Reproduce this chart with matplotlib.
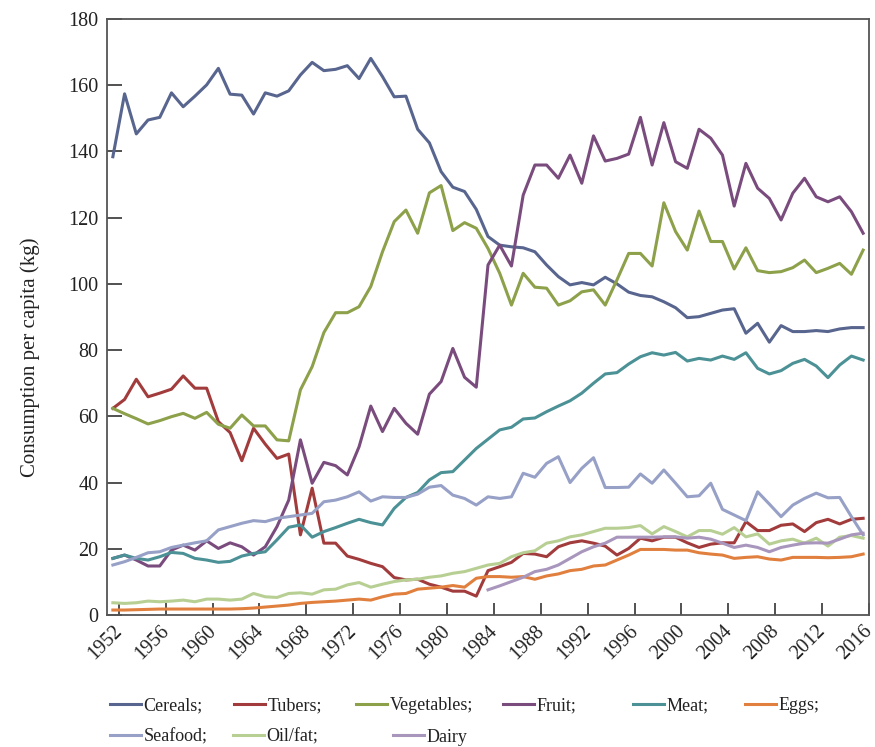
import numpy as np
import matplotlib
matplotlib.use('Agg')
import matplotlib.pyplot as plt

plt.rcParams['font.family'] = ['Liberation Serif', 'DejaVu Serif']

# Years covered by the chart
years = list(range(1952, 2017))

# Per capita consumption (kg)
cereals = [138.4, 157.4, 145.3, 149.5, 150.3, 157.7, 153.5, 156.7, 160.1, 165.1,
           157.3, 157.0, 151.3, 157.7, 156.7, 158.3, 163.1, 166.9, 164.4, 164.8,
           165.9, 162.0, 168.1, 162.6, 156.5, 156.7, 146.7, 142.6, 133.9, 129.2,
           127.9, 122.5, 114.3, 111.7, 111.2, 110.9, 109.7, 105.7, 102.2, 99.7,
           100.4, 99.7, 102.0, 100.0, 97.5, 96.5, 96.1, 94.6, 92.8, 89.8,
           90.1, 91.1, 92.1, 92.5, 85.1, 88.1, 82.4, 87.4, 85.6, 85.6,
           85.9, 85.6, 86.4, 86.8, 86.8]
tubers = [62.4, 65.1, 71.2, 65.9, 67.0, 68.2, 72.2, 68.5, 68.5, 58.4,
          55.1, 46.6, 56.4, 51.6, 47.3, 48.6, 24.2, 38.3, 21.7, 21.7,
          17.8, 16.8, 15.6, 14.6, 11.3, 10.6, 10.8, 9.3, 8.4, 7.2,
          7.2, 5.7, 13.4, 14.6, 15.9, 18.6, 18.4, 17.6, 20.6, 21.8,
          22.4, 21.7, 20.8, 18.1, 20.1, 23.2, 22.4, 23.5, 23.5, 21.8,
          20.4, 21.4, 21.8, 21.8, 28.2, 25.5, 25.5, 27.1, 27.5, 25.2,
          27.9, 28.9, 27.5, 28.9, 29.2]
vegetables = [62.4, 60.8, 59.3, 57.7, 58.7, 59.9, 60.9, 59.4, 61.2, 57.6,
              56.4, 60.4, 57.1, 57.1, 52.9, 52.6, 68.0, 75.0, 85.3, 91.3,
              91.3, 93.1, 99.2, 109.7, 118.8, 122.3, 115.3, 127.5, 129.7, 116.1,
              118.5, 116.8, 110.7, 103.2, 93.6, 103.2, 99.0, 98.7, 93.6, 94.9,
              97.6, 98.2, 93.6, 101.2, 109.2, 109.2, 105.4, 124.5, 115.8, 110.2,
              122.0, 112.8, 112.8, 104.5, 110.9, 104.0, 103.4, 103.7, 104.9, 107.2,
              103.4, 104.7, 106.2, 102.9, 110.2]
fruit = [17.1, 18.1, 16.6, 14.8, 14.8, 19.6, 21.1, 19.6, 22.4, 20.1,
         21.8, 20.6, 18.1, 20.6, 26.7, 34.7, 52.9, 39.8, 46.1, 45.1,
         42.3, 50.8, 63.1, 55.4, 62.4, 57.9, 54.6, 66.7, 70.5, 80.5,
         71.8, 68.8, 105.7, 111.7, 105.4, 126.8, 135.9, 135.9, 131.9, 138.9,
         130.4, 144.7, 137.1, 137.9, 139.2, 150.3, 135.9, 148.7, 136.9, 134.9,
         146.7, 144.0, 138.9, 123.5, 136.4, 128.9, 125.8, 119.3, 127.4, 131.9,
         126.3, 124.8, 126.3, 121.8, 115.3]
meat = [17.1, 18.1, 17.1, 16.6, 17.6, 18.9, 18.6, 17.1, 16.6, 15.9,
        16.2, 17.8, 18.6, 19.1, 22.7, 26.5, 27.2, 23.5, 25.2, 26.4,
        27.7, 28.9, 27.9, 27.2, 32.2, 35.5, 37.0, 40.8, 43.0, 43.3,
        46.8, 50.3, 53.1, 55.9, 56.7, 59.2, 59.5, 61.4, 63.1, 64.7,
        67.0, 70.0, 72.8, 73.2, 75.8, 78.0, 79.2, 78.5, 79.3, 76.7,
        77.5, 77.0, 78.2, 77.2, 79.2, 74.5, 72.8, 73.8, 76.0, 77.2,
        75.2, 71.7, 75.5, 78.2, 77.0]
eggs = [1.5, 1.5, 1.6, 1.7, 1.8, 1.8, 1.8, 1.8, 1.8, 1.8,
        1.8, 1.9, 2.1, 2.4, 2.7, 3.0, 3.5, 3.8, 4.0, 4.2,
        4.5, 4.8, 4.5, 5.5, 6.3, 6.5, 7.8, 8.1, 8.4, 8.9,
        8.4, 11.1, 11.6, 11.6, 11.4, 11.6, 10.8, 11.8, 12.4, 13.4,
        13.8, 14.8, 15.1, 16.6, 18.1, 19.8, 19.8, 19.8, 19.6, 19.6,
        18.8, 18.4, 18.1, 17.1, 17.4, 17.6, 16.9, 16.6, 17.4, 17.4,
        17.4, 17.3, 17.4, 17.6, 18.4]
seafood = [15.1, 16.1, 17.4, 18.8, 19.1, 20.4, 21.1, 21.8, 22.4, 25.7,
           26.7, 27.7, 28.5, 28.2, 29.2, 29.7, 30.2, 30.7, 34.2, 34.7,
           35.7, 37.2, 34.4, 35.7, 35.5, 35.5, 36.5, 38.6, 39.1, 36.2,
           35.2, 33.2, 35.7, 35.2, 35.7, 42.8, 41.6, 45.8, 47.8, 40.0,
           44.3, 47.5, 38.5, 38.5, 38.6, 42.6, 39.8, 43.8, 39.8, 35.7,
           36.0, 39.8, 31.9, 30.2, 28.5, 37.2, 33.5, 29.7, 33.2, 35.2,
           36.8, 35.4, 35.5, 29.7, 24.2]
oil_fat = [3.7, 3.5, 3.7, 4.2, 4.0, 4.2, 4.5, 4.0, 4.8, 4.8,
           4.5, 4.8, 6.5, 5.5, 5.3, 6.5, 6.7, 6.3, 7.6, 7.8,
           9.1, 9.8, 8.4, 9.3, 10.1, 10.6, 10.8, 11.4, 11.8, 12.6,
           13.1, 14.1, 15.1, 15.6, 17.6, 18.8, 19.4, 21.7, 22.4, 23.6,
           24.2, 25.2, 26.2, 26.2, 26.4, 27.0, 24.5, 26.7, 25.2, 23.6,
           25.5, 25.5, 24.4, 26.4, 23.6, 24.5, 21.4, 22.4, 22.9, 21.7,
           23.2, 20.8, 23.5, 24.0, 23.2]
# dairy series only starts in 1984
dairy_years = list(range(1984, 2017))
dairy = [7.6, 8.8, 10.1, 11.4, 13.1, 13.8, 15.1, 17.1, 19.1, 20.6,
         21.7, 23.5, 23.5, 23.5, 23.5, 23.6, 23.6, 23.2, 23.5, 22.9,
         21.7, 20.4, 21.1, 20.4, 19.1, 20.4, 21.1, 21.7, 21.8, 21.7,
         22.9, 24.2, 24.7]

tick_years = list(range(1952, 2017, 4))

fig = plt.figure(figsize=(8.75, 7.47), dpi=100)
ax = fig.add_axes([107 / 875, 132 / 747, 762 / 875, 596 / 747])

lw = 2.2
l_cer, = ax.plot(years, cereals, color='#58658e', lw=lw, label='Cereals;')
l_tub, = ax.plot(years, tubers, color='#a23c3c', lw=lw, label='Tubers;')
l_veg, = ax.plot(years, vegetables, color='#8da04a', lw=lw, label='Vegetables;')
l_fru, = ax.plot(years, fruit, color='#7a4c7e', lw=lw, label='Fruit;')
l_mea, = ax.plot(years, meat, color='#4b9196', lw=lw, label='Meat;')
l_egg, = ax.plot(years, eggs, color='#e1803e', lw=lw, label='Eggs;')
l_sea, = ax.plot(years, seafood, color='#97a0c6', lw=lw, label='Seafood;')
l_oil, = ax.plot(years, oil_fat, color='#b8cf94', lw=lw, label='Oil/fat;')
l_dai, = ax.plot(dairy_years, dairy, color='#a996bd', lw=lw, label='Dairy')

ax.set_xlim(1951.5, 2016.5)
ax.set_ylim(0, 180)
ax.set_yticks(range(0, 181, 20))
# labels sit on the years, tick marks sit between years (category axis)
ax.set_xticks(tick_years)
ax.set_xticklabels([str(y) for y in tick_years], rotation=45, ha='right',
                   rotation_mode='anchor')
ax.set_xticks([y + 0.5 for y in tick_years], minor=True)
ax.tick_params(axis='both', which='both', direction='in', labelsize=14.5,
               colors='#333333', labelcolor='#222222', width=1.2)
ax.tick_params(axis='y', length=11, pad=6)
ax.tick_params(axis='x', which='major', length=0, pad=5)
ax.tick_params(axis='x', which='minor', length=9)
for sp in ax.spines.values():
    sp.set_color('#555555')
    sp.set_linewidth(1.3)

fig.text(30 / 875, 1 - 357 / 747, 'Consumption per capita (kg)', rotation=90,
         ha='center', va='center', fontsize=15, color='#222222')

# legend entries placed one by one, like the original's flowing layout
entries = [(l_cer, 110, 706), (l_tub, 234, 706), (l_veg, 356, 706),
           (l_fru, 503, 706), (l_mea, 633, 706), (l_egg, 745, 706),
           (l_sea, 110, 737), (l_oil, 233, 737), (l_dai, 393, 737)]
for h, px, py in entries:
    leg = fig.legend(handles=[h], loc='center left',
                     bbox_to_anchor=(px / 875, 1 - py / 747),
                     frameon=False, fontsize=13, handlelength=1.7,
                     handletextpad=0.15, borderaxespad=0, borderpad=0)
    for t in leg.get_texts():
        t.set_color('#222222')

fig.savefig('out.png', dpi=100)
